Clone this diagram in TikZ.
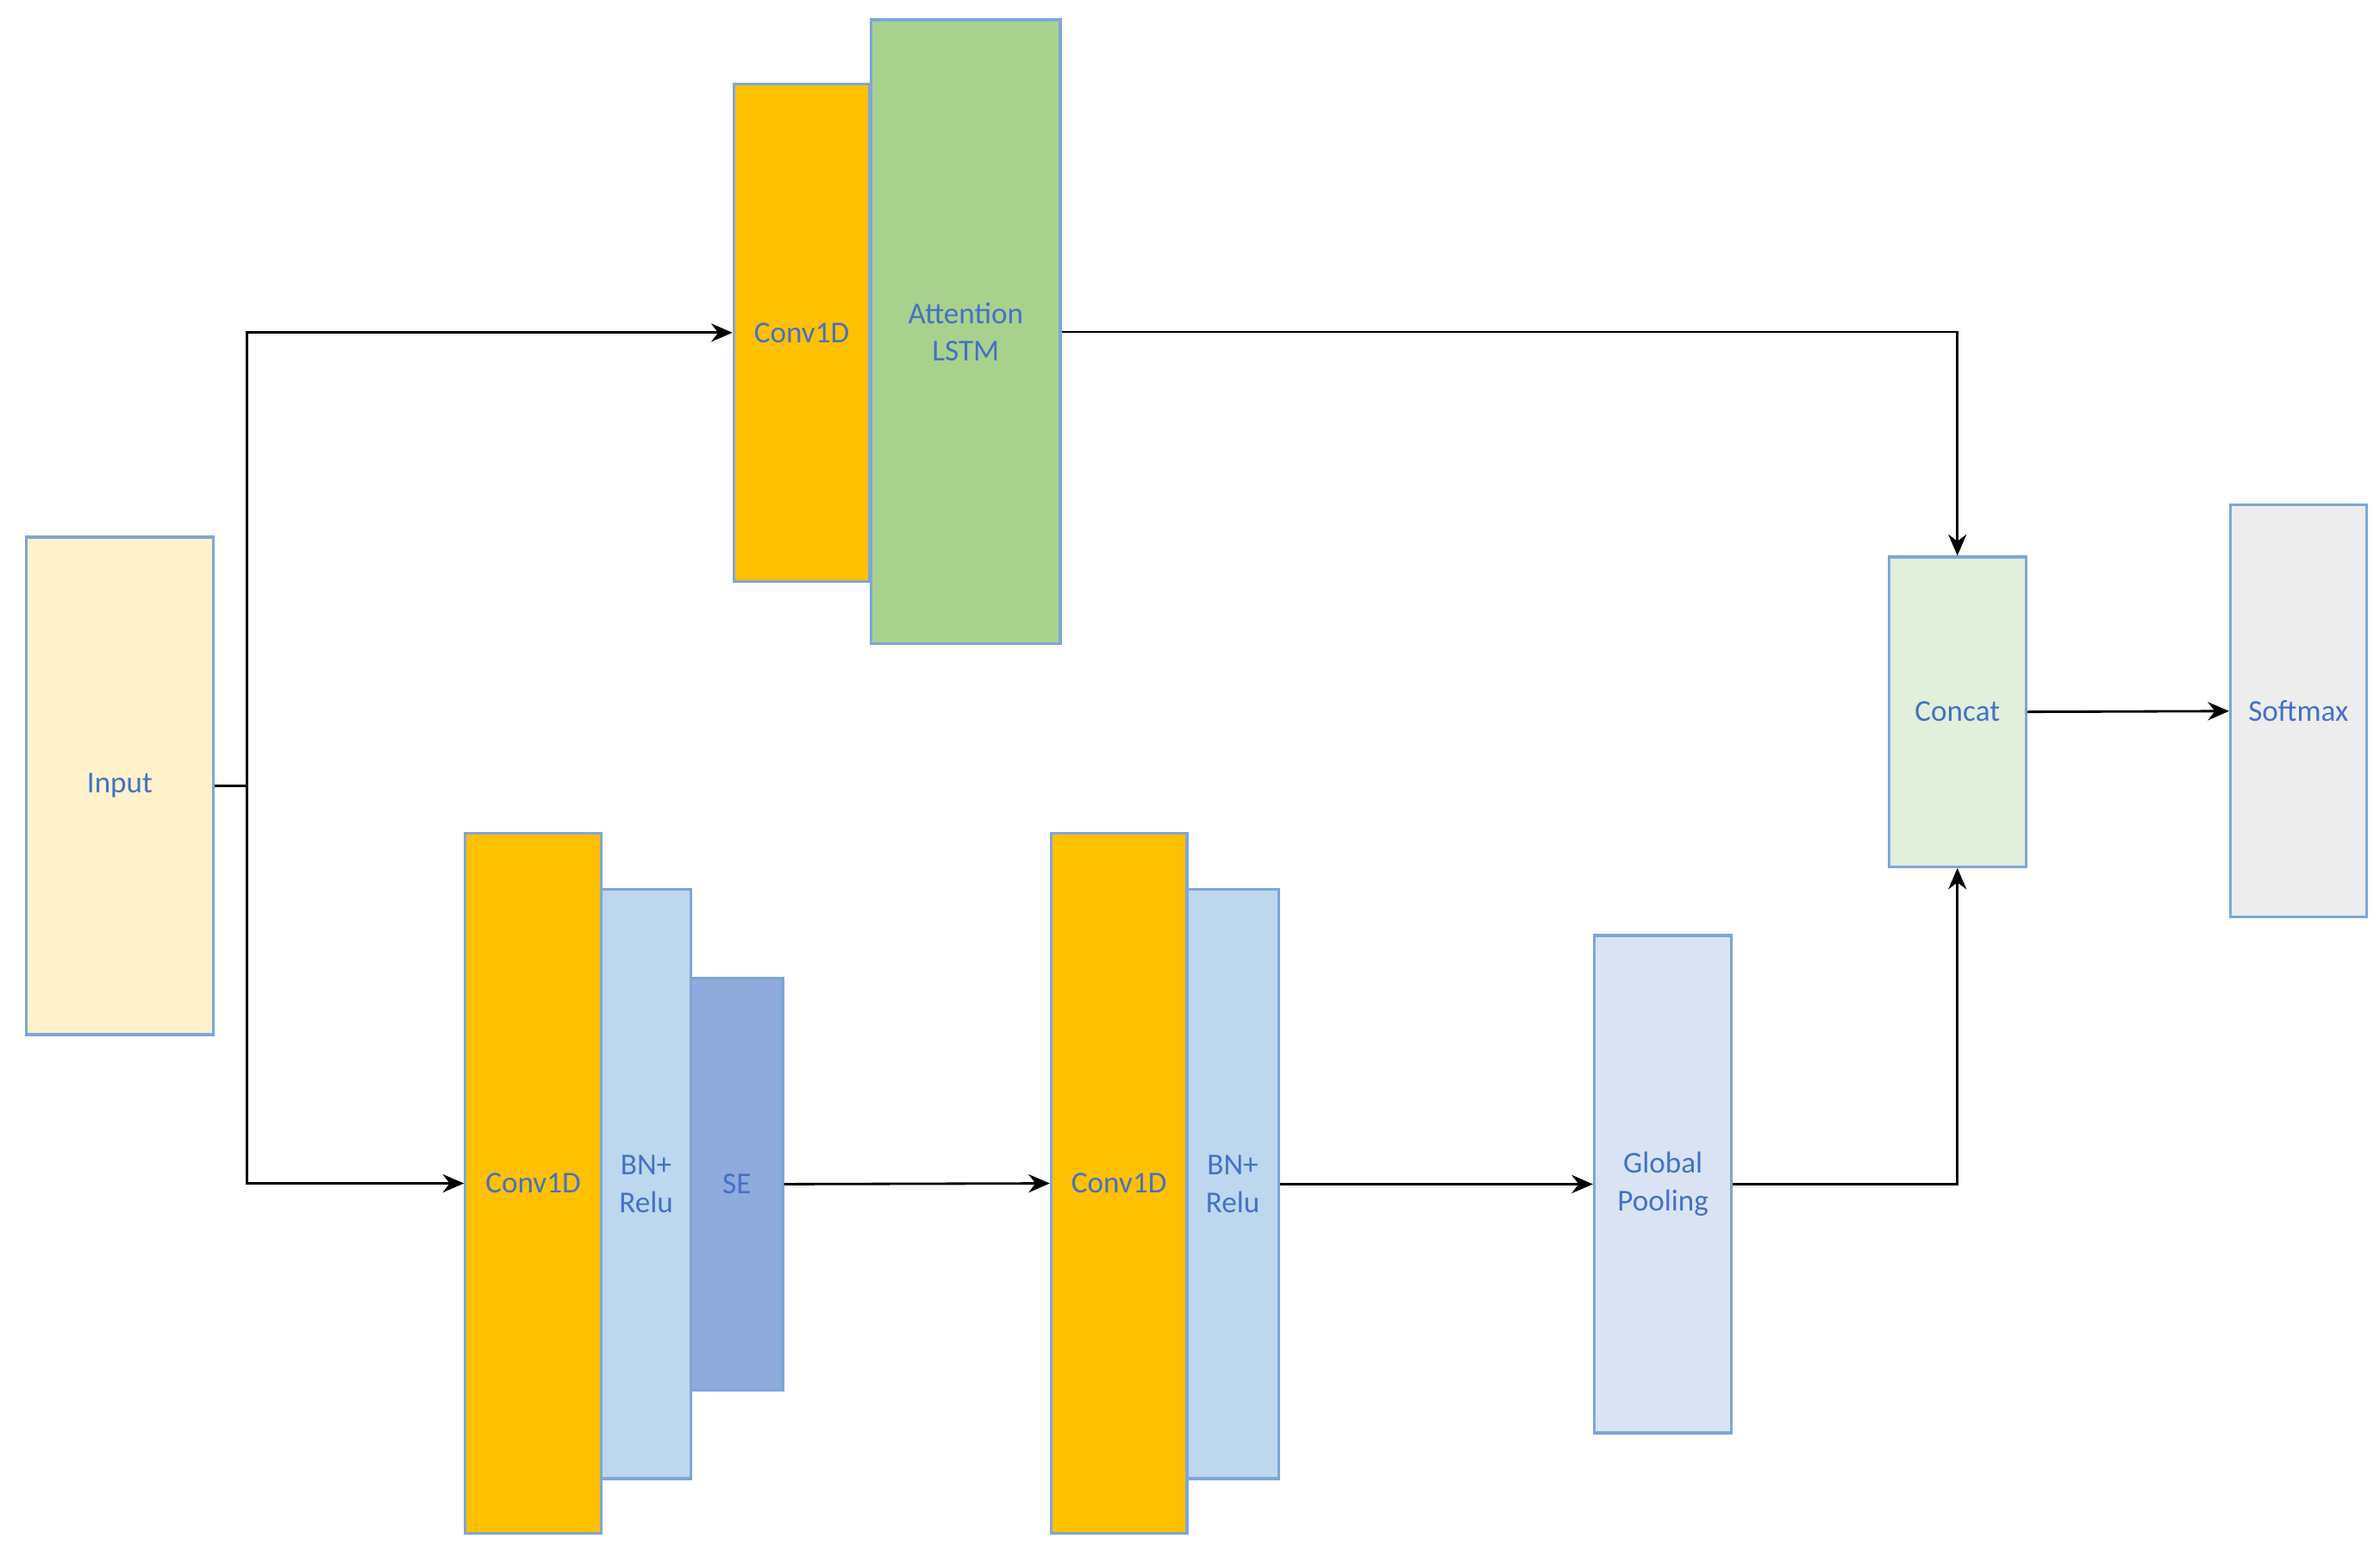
\documentclass[tikz,border=0pt]{standalone}
\usepackage{fontspec}
\setmainfont{Carlito}
\usetikzlibrary{arrows.meta}
\definecolor{tx}{HTML}{4472C4}
\definecolor{bd}{HTML}{7EA6D8}
\definecolor{cIn}{HTML}{FFF2CC}
\definecolor{cOr}{HTML}{FFC000}
\definecolor{cGr}{HTML}{A9D18E}
\definecolor{cCat}{HTML}{E2EFDA}
\definecolor{cSm}{HTML}{EDEDED}
\definecolor{cBn}{HTML}{BDD7EE}
\definecolor{cSe}{HTML}{8FAADC}
\definecolor{cGp}{HTML}{DAE3F3}
\tikzset{
 blk/.style={draw=bd,line width=0.9pt,inner sep=0pt,align=center,text=tx,font=\fontsize{10}{12.5}\selectfont},
 con/.style={line width=0.8pt,-{Stealth[length=7pt,width=6pt]}},
}
\newcommand{\blk}[7]{\node[blk,fill=#6,minimum width={(#4-#2)*0.0177cm},minimum height={(#5-#3)*0.0177cm}] (#1) at ({(#2+#4)/2},{(#3+#5)/2}) {#7};}
\begin{document}
\begin{tikzpicture}[x=0.0177cm,y=-0.0177cm]
\useasboundingbox (0,0) rectangle (1560,1012);
\blk{in}{17}{352}{140}{678}{cIn}{Input}
\blk{ca}{481}{55}{570}{381}{cOr}{Conv1D}
\blk{att}{571}{13}{695}{422}{cGr}{Attention\\LSTM}
\blk{cat}{1238}{365}{1328}{568}{cCat}{Concat}
\blk{sm}{1462}{331}{1551}{601}{cSm}{Softmax}
\blk{c1}{305}{546}{394}{1005}{cOr}{Conv1D}
\blk{b1}{394}{583}{453}{969}{cBn}{BN+\\Relu}
\blk{se}{453}{641}{513}{911}{cSe}{SE}
\blk{c2}{689}{546}{778}{1005}{cOr}{Conv1D}
\blk{b2}{778}{583}{838}{969}{cBn}{BN+\\Relu}
\blk{gp}{1045}{613}{1135}{939}{cGp}{Global\\Pooling}
\coordinate (j) at (162,515);
\draw[line width=0.8pt] (in.east) -- (j);
\draw[con] (j) |- (ca.west);
\draw[con] (j) |- (c1.west);
\draw[con] (att.east) -| (cat.north);
\draw[con] (se.east) -- (c2.west);
\draw[con] (b2.east) -- (gp.west);
\draw[con] (gp.east) -| (cat.south);
\draw[con] (cat.east) -- (sm.west);
\end{tikzpicture}
\end{document}
